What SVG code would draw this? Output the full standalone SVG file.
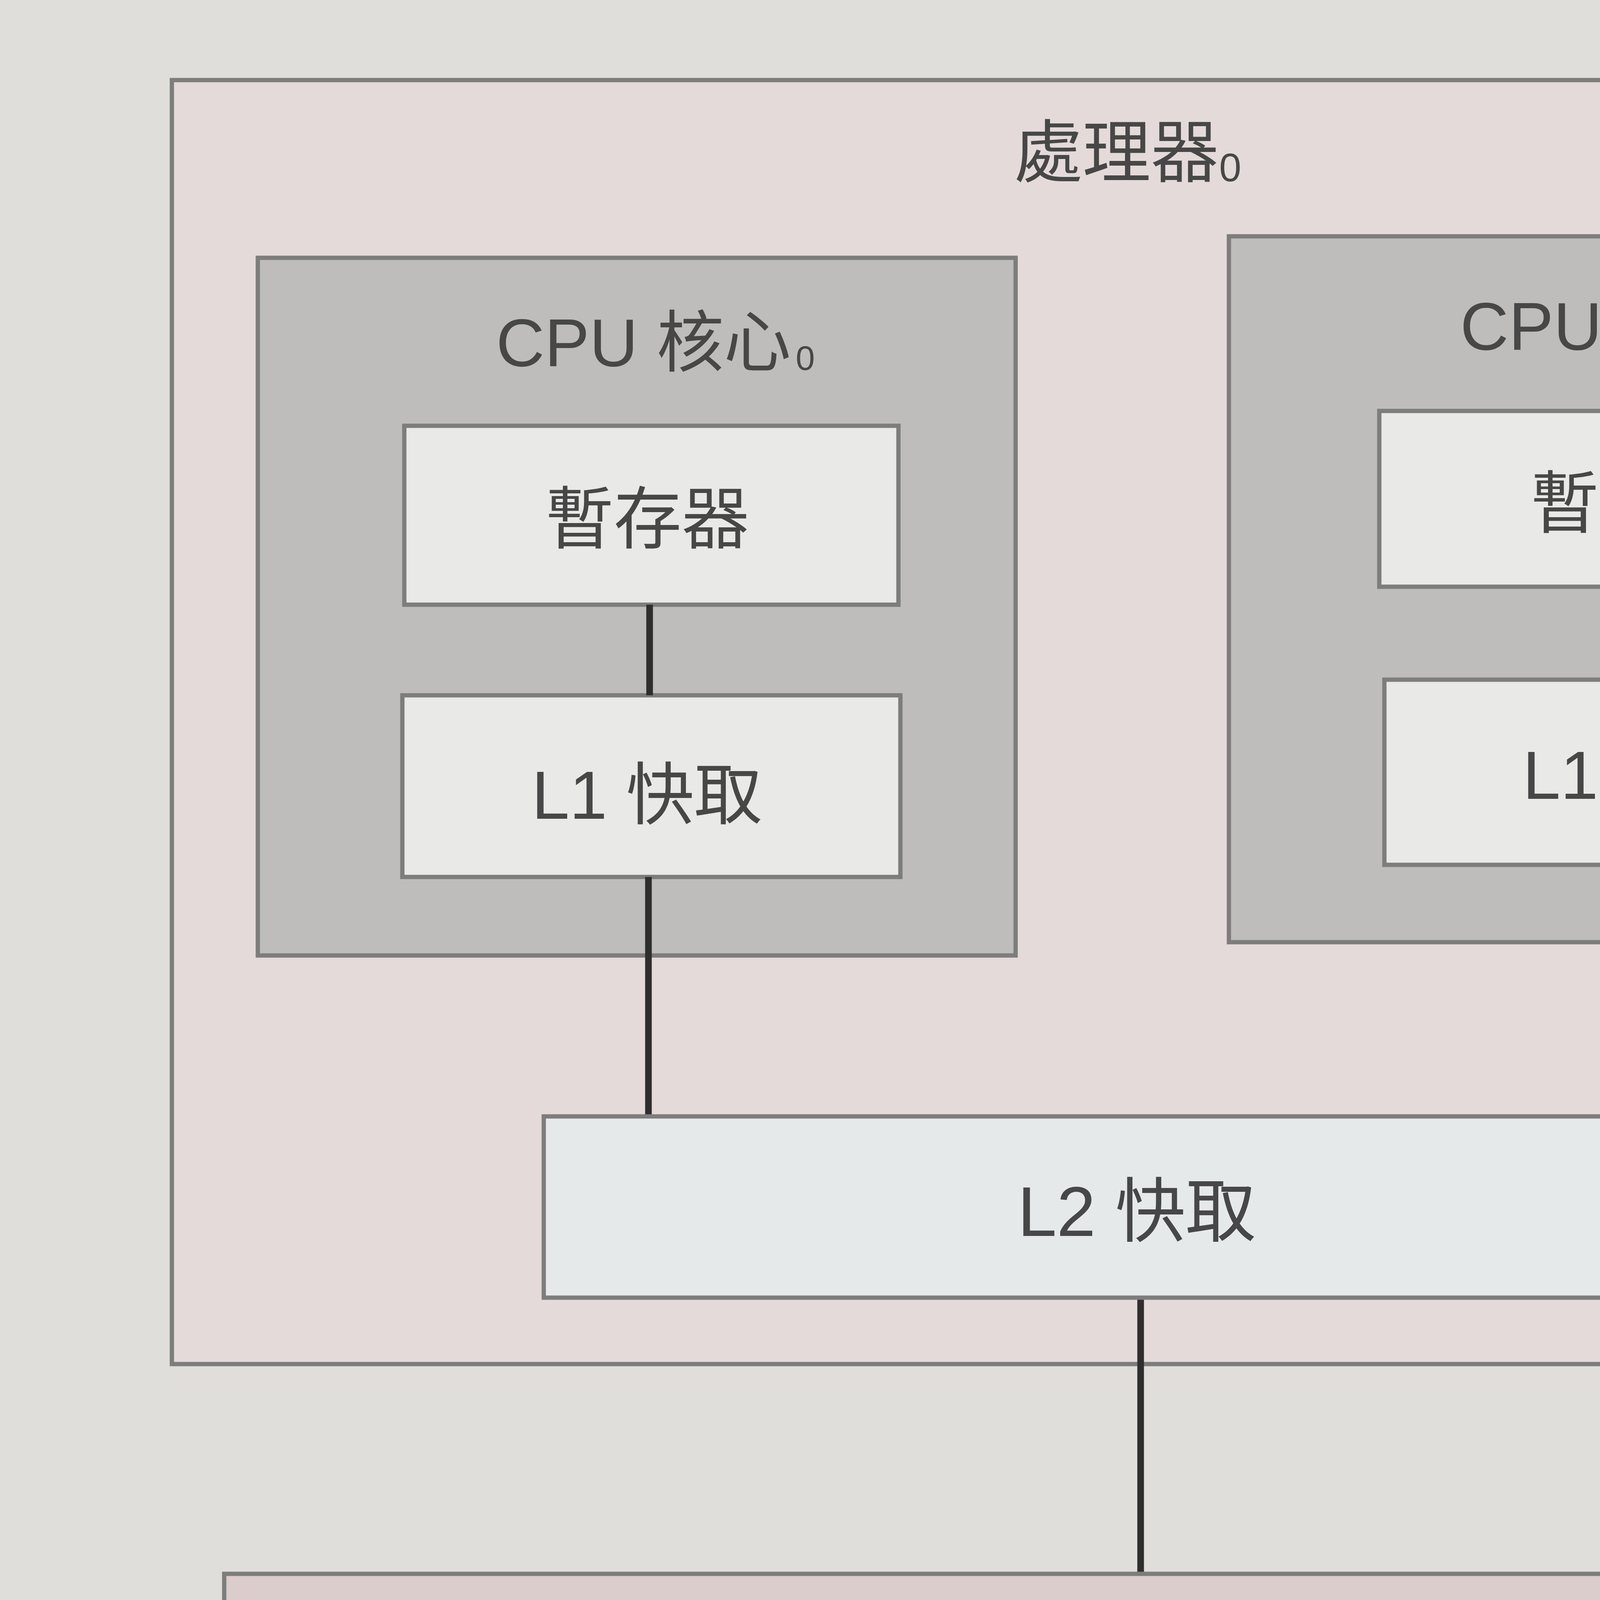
<svg xmlns="http://www.w3.org/2000/svg" width="5793" height="5481" viewBox="0 0 5793 5481">
  <style>
    .lbl { font-family: "Liberation Sans", "Noto Sans CJK TC", sans-serif; fill: #474747; }
    .box { stroke: #7d7d7d; stroke-width: 11; }
    .proc { fill: #e4dad9; }
    .core { fill: #bebdbc; }
    .inner { fill: #e9e9e8; }
    .l2 { fill: #e6e9ea; }
    .mem { fill: #dacdcb; }
    .wire { stroke: #2e2e2e; stroke-width: 17; fill: none; }
    .cap { font-family: "Liberation Sans", "Noto Sans CJK TC", sans-serif; }
  </style>
  <rect x="0" y="0" width="5793" height="5481" fill="#dfdedb"/>

  <g id="processor">
    <rect class="box proc" x="440" y="205" width="4950" height="3287"/>
    <text class="lbl" x="2596" y="452" font-size="175">處理器<tspan font-size="102" dy="12">0</tspan></text>
  </g>

  <g id="core0">
    <rect class="box core" x="660" y="660" width="1940" height="1786"/>
    <text class="lbl" x="1270" y="937" font-size="172">CPU 核心<tspan font-size="88" dx="12" dy="10">0</tspan></text>
  </g>

  <g id="core1">
    <rect class="box core" x="3146" y="605" width="1975" height="1807"/>
    <text class="lbl" x="3738" y="895" font-size="172">CPU 核心<tspan font-size="88" dx="12" dy="12">1</tspan></text>
  </g>

  <g id="register0">
    <rect class="box inner" x="1035" y="1090" width="1265" height="458"/>
    <text class="lbl" x="1658" y="1390" font-size="174" text-anchor="middle">暫存器</text>
  </g>

  <g id="l1cache0">
    <rect class="box inner" x="1030" y="1780" width="1275" height="465"/>
    <text class="lbl" x="1656" y="2096" font-size="174" text-anchor="middle">L1 快取</text>
  </g>

  <g id="register1">
    <rect class="box inner" x="3531" y="1052" width="1287" height="450"/>
    <text class="lbl" x="4180" y="1350" font-size="174" text-anchor="middle">暫存器</text>
  </g>

  <g id="l1cache1">
    <rect class="box inner" x="3544" y="1740" width="1290" height="474"/>
    <text class="lbl" x="4193" y="2045" font-size="174" text-anchor="middle">L1 快取</text>
  </g>

  <g id="connectors">
    <line class="wire" x1="1663" y1="1548" x2="1663" y2="1780"/>
    <line class="wire" x1="1660" y1="2245" x2="1660" y2="2858"/>
    <line class="wire" x1="4190" y1="1502" x2="4190" y2="1740"/>
    <line class="wire" x1="4205" y1="2214" x2="4205" y2="2858"/>
    <line class="wire" x1="2920" y1="3322" x2="2920" y2="4029"/>
  </g>

  <g id="l2cache">
    <rect class="box l2" x="1392" y="2858" width="3066" height="464"/>
    <text class="lbl" x="2910" y="3164" font-size="180" text-anchor="middle">L2 快取</text>
  </g>

  <g id="mainmemory">
    <rect class="box mem" x="574" y="4029" width="4523" height="616"/>
    <text class="lbl" x="2806" y="4422" font-size="184" text-anchor="middle">主記憶體</text>
  </g>

  <g id="caption">
    <polygon points="623,4872 623,5056 779,4965" fill="#b27e72"/>
    <text class="cap" x="818" y="5048" font-size="195" fill="#b27e72" font-weight="bold">圖</text>
    <text class="cap" x="1086" y="5048" font-size="200" fill="#b27e72" font-weight="bold">1.9</text>
    <text class="cap" x="1593" y="5062" font-size="218" fill="#3c3c3c">雙核心設計使用兩個核心在一個晶片內</text>
  </g>
</svg>
